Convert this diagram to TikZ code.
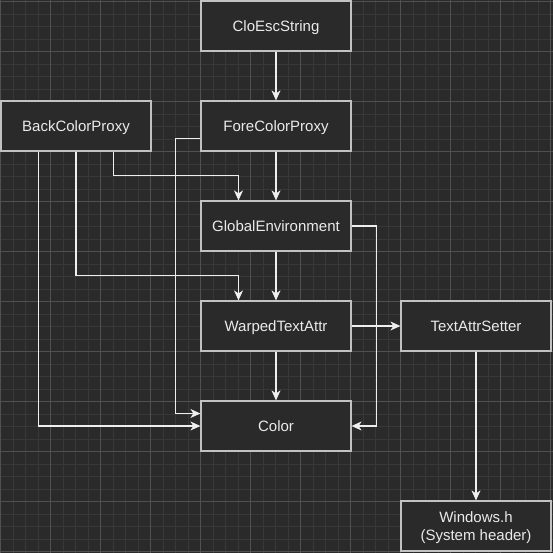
\documentclass[tikz,border=0pt]{standalone}
\usepackage{fontspec}
\setmainfont{Liberation Sans}
\usepackage{tikz}
\usetikzlibrary{arrows.meta}
\usepackage{xcolor}

\definecolor{canvas}{HTML}{2A2A2A}
\definecolor{minorgrid}{HTML}{383838}
\definecolor{majorgrid}{HTML}{505050}
\definecolor{boxline}{HTML}{C2C2C2}
\definecolor{wire}{HTML}{EEEEEE}
\definecolor{label}{HTML}{EAEAEA}

\begin{document}
\begin{tikzpicture}[x=1pt,y=-1pt,
	unit/.style={draw=boxline,fill=canvas,line width=1.2pt,minimum width=150pt,minimum height=50pt,
		text=label,font=\fontsize{15}{17.5}\selectfont,align=center,inner sep=0pt,
		text height=12pt,text depth=1pt},
	link/.style={draw=wire,line width=1.2pt,-{Stealth[length=10pt,width=9pt,inset=3pt]}}]
	\useasboundingbox (0,0) rectangle (553,553);
	\fill[canvas] (0,0) rectangle (553,553);
	
	\begin{scope}[y=1pt,shift={(0.5,-1.5)}]
		\draw[minorgrid,line width=0.6pt,step=12.5pt] (-0.5,-553) grid (553,1.5);
		\draw[majorgrid,line width=0.8pt,step=50pt] (-0.5,-553) grid (553,1.5);
	\end{scope}
	
	\node[unit] (clo) at (276,26) {CloEscString};
	\node[unit] (back) at (76,126) {BackColorProxy};
	\node[unit] (fore) at (276,126) {ForeColorProxy};
	\node[unit] (glob) at (276,226) {GlobalEnvironment};
	\node[unit] (warp) at (276,326) {WarpedTextAttr};
	\node[unit] (setter) at (476,326) {TextAttrSetter};
	\node[unit] (color) at (276,426) {Color};
	\node[unit,text height=29.5pt] (win) at (476,526) {Windows.h\\(System header)};
	
	\draw[link] (clo) -- (fore);
	\draw[link] (fore) -- (glob);
	\draw[link] (glob) -- (warp);
	\draw[link] (warp) -- (color);
	\draw[link] (warp) -- (setter);
	\draw[link] (setter) -- (win);
	
	\draw[link] ([xshift=37.5]back.south) |- ([xshift=-37.5,yshift=25]glob.north) -- ([xshift=-37.5]glob.north);
	\draw[link] (back.south) |- ([xshift=-37.5,yshift=25]warp.north) -- ([xshift=-37.5]warp.north);
	\draw[link] ([xshift=-37.5]back.south) |- (color.west);
	
	\draw[link] ([yshift=-12.5]fore.west) -- ++(-25,0) |- ([yshift=12.5]color.west);
	\draw[link] (glob.east) -- ++(25,0) |- (color.east);
\end{tikzpicture}
\end{document}
